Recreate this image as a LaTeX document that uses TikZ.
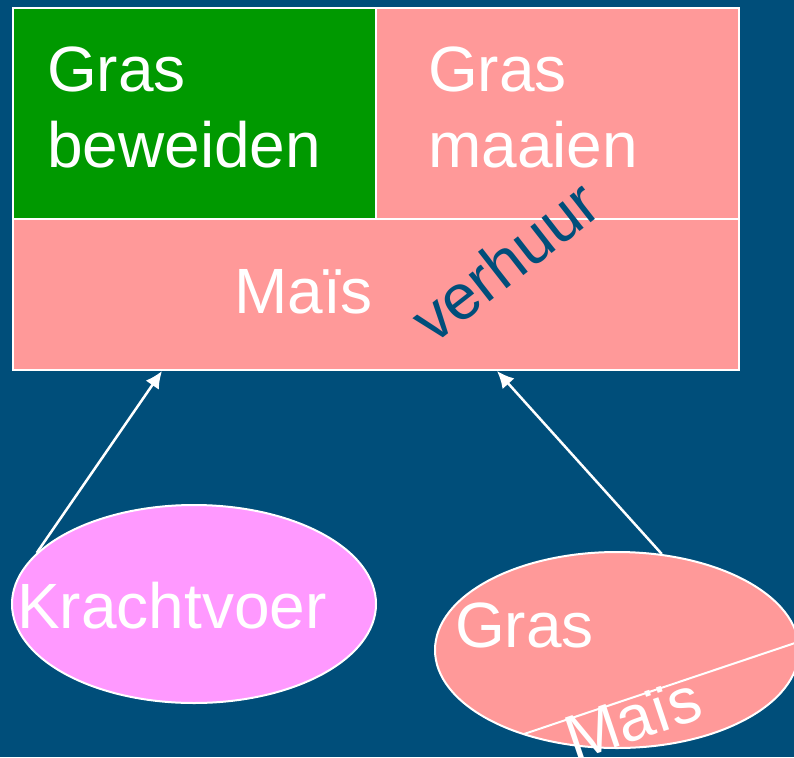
\documentclass[tikz,border=0pt]{standalone}
\usepackage{fontspec}
\setmainfont{Liberation Sans}
\usetikzlibrary{shapes.geometric,arrows.meta}
\definecolor{achtergrond}{HTML}{004E7A}
\definecolor{weide}{HTML}{009900}
\definecolor{roze}{HTML}{FF9999}
\definecolor{paars}{HTML}{FF99FF}
\tikzset{
  vak/.style={draw=white, line width=2pt, rectangle, inner sep=0pt, anchor=north west},
  schijf/.style={draw=white, line width=2pt, ellipse, inner sep=0pt},
  tekst/.style={text=white, font=\fontsize{64}{76}\selectfont, inner sep=0pt, align=left},
  pijl/.style={white, line width=2.5pt, -{Latex[length=17pt,width=16pt]}}
}
\begin{document}
\begin{tikzpicture}[x=1pt,y=-1pt]
        \fill[achtergrond] (0,0) rectangle (794,757);
        \useasboundingbox (0,0) rectangle (794,757);

        % bedrijf
        \node[vak, fill=weide, minimum width=363pt, minimum height=211pt] (beweiden) at (12,7) {};
        \node[vak, fill=roze, minimum width=363pt, minimum height=211pt] (maaien) at (375,7) {};
        \node[vak, fill=roze, minimum width=726pt, minimum height=151pt] (mais) at (12,218) {};
        \node[tekst, anchor=north west] (beweidentxt) at (47,47) {Gras\\beweiden};
        \node[tekst, anchor=north west] (maaientxt) at (428,47) {Gras\\maaien};
        \node[tekst, anchor=base west] (maistxt) at (234,313) {Maïs};
        \node[tekst, text=achtergrond, rotate=38] (verhuur) at (505,261) {verhuur};

        % aanvoer
        \node[schijf, fill=paars, minimum width=364pt, minimum height=198pt] (kracht) at (194,604) {};
        \node[tekst, anchor=base west] (krachttxt) at (17,628) {Krachtvoer};
        \node[schijf, fill=roze, minimum width=364pt, minimum height=196pt] (gras) at (617,650) {};
        \coordinate (scheidL) at (524,734);
        \coordinate (scheidR) at (798,642);
        \draw[white, line width=2pt] (scheidL) -- (scheidR);
        \node[tekst, anchor=base west] (grastxt) at (455,647) {Gras};
        \node[tekst, rotate=18.6] (graismais) at (633,719) {Maïs};

        \draw[pijl] (kracht.162) -- ([xshift=150pt]mais.south west);
        \draw[pijl] (gras.65) -- ([xshift=485pt]mais.south west);
\end{tikzpicture}
\end{document}
